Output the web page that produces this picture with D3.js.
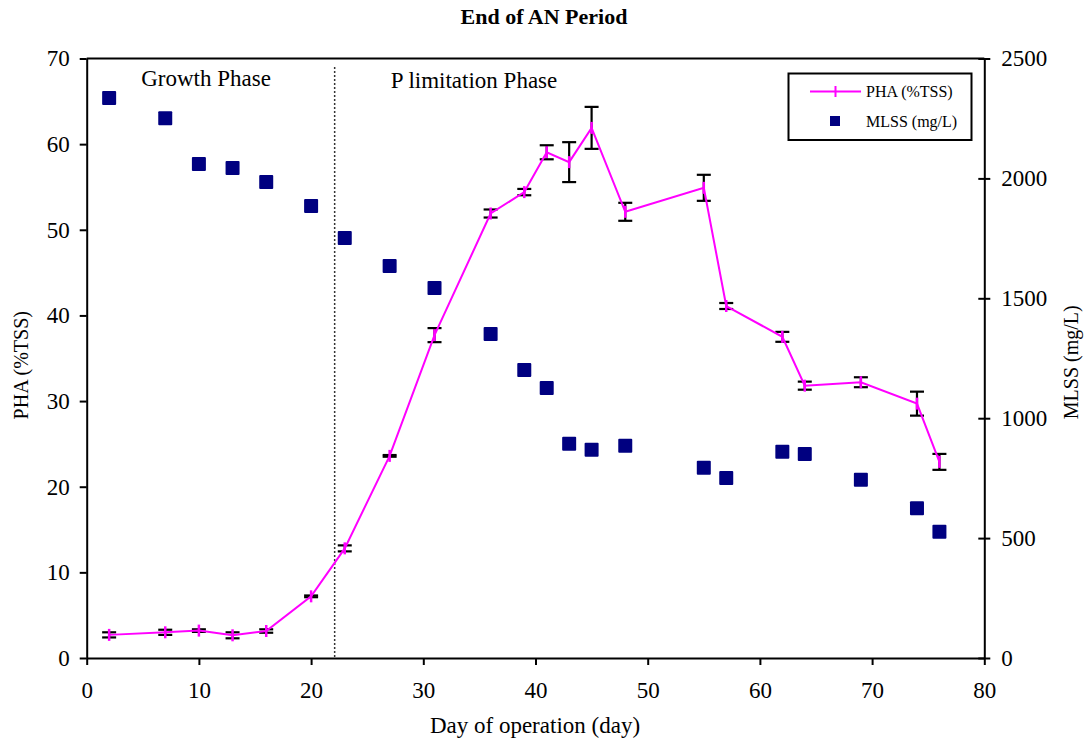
<!DOCTYPE html>
<html>
<head>
<meta charset="utf-8">
<script src="https://cdn.jsdelivr.net/npm/d3@7"></script>
<style>
  html, body { margin: 0; padding: 0; background: #fff; }
  svg { display: block; }
  text { font-family: "Liberation Serif", "Times New Roman", serif; fill: #000; }
</style>
</head>
<body>
<svg id="chart" width="1086" height="744"></svg>
<script>
// Day of operation for each sample
const days = [2, 7, 10, 13, 16, 20, 23, 27, 31, 36, 39, 41, 43, 45, 48, 55, 57, 62, 64, 69, 74, 76];
// PHA content (% of TSS) and its standard deviation
const pha = [2.7, 3.0, 3.2, 2.65, 3.15, 7.2, 12.8, 23.6, 37.7, 51.9, 54.4, 59.05, 57.9, 61.9, 52.1, 54.9, 41.1, 37.5, 31.8, 32.2, 29.7, 22.9];
const phaErr = [0.3, 0.3, 0.15, 0.35, 0.2, 0.1, 0.35, 0.1, 0.82, 0.47, 0.37, 0.82, 2.33, 2.45, 1.05, 1.52, 0.35, 0.58, 0.47, 0.58, 1.4, 0.93];
// Mixed liquor suspended solids (mg/L)
const mlss = [2335, 2251, 2060, 2043, 1985, 1885, 1751, 1635, 1543, 1351, 1201, 1126, 893, 868, 885, 793, 751, 860, 851, 743, 625, 526];
// Day separating the growth phase from the P limitation phase
const phaseBoundary = 22.1;

const xTicks = [0, 10, 20, 30, 40, 50, 60, 70, 80];
const yLeftTicks = [0, 10, 20, 30, 40, 50, 60, 70];
const yRightTicks = [0, 500, 1000, 1500, 2000, 2500];

const svg = d3.select("#chart");
const L = 86.7, R = 984.3, T = 58.5, B = 658;

const x = d3.scaleLinear().domain([0, 80]).range([L, R]);
const yL = d3.scaleLinear().domain([0, 70]).range([B, T]);
const yR = d3.scaleLinear().domain([0, 2500]).range([B, T]);

// Title
svg.append("text").attr("x", 544).attr("y", 24).attr("text-anchor", "middle")
  .style("font-weight", "bold").style("font-size", "22px").text("End of AN Period");

// Plot frame top edge
svg.append("line").attr("x1", L).attr("x2", R).attr("y1", T).attr("y2", T)
  .attr("stroke", "#000").attr("stroke-width", 2);

// Axes
const styleAxis = g => {
  g.select(".domain").attr("stroke", "#000").attr("stroke-width", 2);
  g.selectAll(".tick line").attr("stroke", "#000").attr("stroke-width", 2);
  g.selectAll(".tick text").style("font-size", "23px")
    .style("font-family", "'Liberation Serif', 'Times New Roman', serif").attr("fill", "#000");
};

svg.append("g").attr("transform", `translate(0,${B})`)
  .call(d3.axisBottom(x).tickValues(xTicks).tickSize(7).tickSizeOuter(0).tickPadding(17))
  .call(styleAxis);

svg.append("g").attr("transform", `translate(${L},0)`)
  .call(d3.axisLeft(yL).tickValues(yLeftTicks).tickSize(7).tickSizeOuter(0).tickPadding(10))
  .call(styleAxis);

const gR = svg.append("g").attr("transform", `translate(${R},0)`)
  .call(d3.axisRight(yR).tickValues(yRightTicks).tickFormat(d3.format("d"))
    .tickSize(6).tickSizeOuter(0).tickPadding(11))
  .call(styleAxis);
// right-axis ticks cross the axis line
gR.selectAll(".tick line").attr("x1", -6);

// Axis titles
svg.append("text").attr("x", 535).attr("y", 733).attr("text-anchor", "middle")
  .style("font-size", "23px").text("Day of operation (day)");
svg.append("text").attr("transform", `translate(28,${(T + B) / 2 + 7}) rotate(-90)`)
  .attr("text-anchor", "middle").style("font-size", "20px").text("PHA (%TSS)");
svg.append("text").attr("transform", `translate(1078,${(T + B) / 2 + 4}) rotate(-90)`)
  .attr("text-anchor", "middle").style("font-size", "20px").text("MLSS (mg/L)");

// Phase boundary
svg.append("line").attr("x1", x(phaseBoundary)).attr("x2", x(phaseBoundary))
  .attr("y1", 67).attr("y2", B)
  .attr("stroke", "#333").attr("stroke-width", 1.5).attr("stroke-dasharray", "2,2");

svg.append("text").attr("x", 206).attr("y", 86).attr("text-anchor", "middle")
  .style("font-size", "23px").text("Growth Phase");
svg.append("text").attr("x", 474).attr("y", 88).attr("text-anchor", "middle")
  .style("font-size", "23px").text("P limitation Phase");

// MLSS squares
const sq = 14;
svg.append("g").selectAll("rect").data(days).join("rect")
  .attr("x", (d, i) => x(d) - sq / 2)
  .attr("y", (d, i) => yR(mlss[i]) - sq / 2)
  .attr("width", sq).attr("height", sq).attr("rx", 1)
  .attr("fill", "#000080");

// PHA error bars
const cap = 7;
const eb = svg.append("g").attr("stroke", "#000").attr("stroke-width", 2.2);
days.forEach((d, i) => {
  const cx = x(d), hi = yL(pha[i] + phaErr[i]), lo = yL(pha[i] - phaErr[i]);
  eb.append("line").attr("x1", cx).attr("x2", cx).attr("y1", hi).attr("y2", lo);
  eb.append("line").attr("x1", cx - cap).attr("x2", cx + cap).attr("y1", hi).attr("y2", hi);
  eb.append("line").attr("x1", cx - cap).attr("x2", cx + cap).attr("y1", lo).attr("y2", lo);
});

// PHA line and dash markers
const line = d3.line().x((d, i) => x(d)).y((d, i) => yL(pha[i]));
svg.append("path").datum(days).attr("d", line)
  .attr("fill", "none").attr("stroke", "#ff00ff").attr("stroke-width", 2);
svg.append("g").selectAll("line").data(days).join("line")
  .attr("x1", d => x(d)).attr("x2", d => x(d))
  .attr("y1", (d, i) => yL(pha[i]) - 6).attr("y2", (d, i) => yL(pha[i]) + 6)
  .attr("stroke", "#ff00ff").attr("stroke-width", 2.5);

// Legend
const lg = svg.append("g");
lg.append("rect").attr("x", 788.5).attr("y", 73.5).attr("width", 183).attr("height", 66.5)
  .attr("fill", "#fff").attr("stroke", "#000").attr("stroke-width", 2);
lg.append("line").attr("x1", 810).attr("x2", 861).attr("y1", 91.5).attr("y2", 91.5)
  .attr("stroke", "#ff00ff").attr("stroke-width", 2);
lg.append("line").attr("x1", 835.5).attr("x2", 835.5).attr("y1", 86).attr("y2", 97)
  .attr("stroke", "#ff00ff").attr("stroke-width", 2);
lg.append("text").attr("x", 866).attr("y", 97).style("font-size", "16px").text("PHA (%TSS)");
lg.append("rect").attr("x", 830).attr("y", 116).attr("width", 10).attr("height", 10).attr("fill", "#000080");
lg.append("text").attr("x", 866).attr("y", 127).style("font-size", "16px").text("MLSS (mg/L)");
</script>
</body>
</html>
